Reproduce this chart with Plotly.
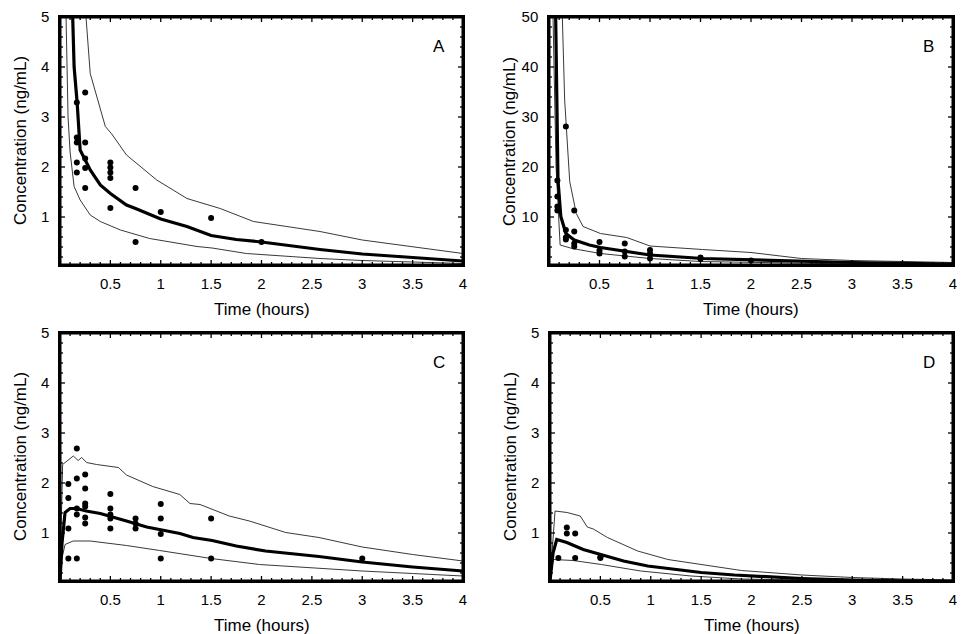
import plotly.graph_objects as go

# ---- observed concentrations (hours, ng/mL) ----
a_obs_t = [0.25, 0.167, 0.167, 0.167, 0.167, 0.167, 0.25, 0.25, 0.25, 0.25,
           0.5, 0.5, 0.5, 0.5, 0.5, 0.75, 0.75, 1.0, 1.5, 2.0]
a_obs_c = [3.49, 3.29, 2.59, 2.49, 2.09, 1.89, 2.49, 2.17, 1.98, 1.58,
           2.09, 1.99, 1.89, 1.78, 1.18, 1.58, 0.5, 1.1, 0.98, 0.5]

b_obs_t = [0.167, 0.083, 0.083, 0.083, 0.083, 0.25, 0.167, 0.167, 0.167, 0.25, 0.25, 0.25,
           0.5, 0.5, 0.5, 0.75, 0.75, 0.75, 1.0, 1.0, 1.0, 1.5, 1.5, 2.0]
b_obs_c = [28.1, 17.3, 14.1, 12.1, 11.3, 11.3, 7.4, 5.9, 5.5, 7.1, 4.7, 4.1,
           5.0, 3.3, 2.7, 4.7, 3.1, 2.1, 3.4, 2.7, 1.7, 1.9, 1.6, 1.3]

c_obs_t = [0.167, 0.083, 0.083, 0.083, 0.083, 0.167, 0.167, 0.167, 0.167,
           0.25, 0.25, 0.25, 0.25, 0.25, 0.25, 0.5, 0.5, 0.5, 0.5, 0.5,
           0.75, 0.75, 0.75, 1.0, 1.0, 1.0, 1.0, 1.5, 1.5, 3.0]
c_obs_c = [2.69, 1.98, 1.70, 1.09, 0.49, 0.49, 2.09, 1.49, 1.37,
           2.17, 1.89, 1.59, 1.53, 1.31, 1.19, 1.78, 1.49, 1.37, 1.29, 1.09,
           1.29, 1.19, 1.09, 1.58, 1.29, 0.98, 0.49, 1.29, 0.49, 0.49]

d_obs_t = [0.083, 0.167, 0.167, 0.25, 0.25, 0.5, 0.5]
d_obs_c = [0.5, 1.11, 0.99, 0.99, 0.5, 0.5, 0.52]

# ---- model curves: median and 90% prediction limits ----
a_med_t = [0.126, 0.14, 0.17, 0.2, 0.3, 0.4, 0.5, 0.66, 0.75, 0.86, 1.0, 1.26, 1.5, 1.75, 2.0, 2.58, 3.0, 3.5, 4.0]
a_med_c = [5.0, 4.0, 3.29, 2.34, 1.94, 1.64, 1.47, 1.24, 1.17, 1.07, 0.96, 0.81, 0.63, 0.55, 0.5, 0.35, 0.26, 0.19, 0.12]
a_hi_t = [0.258, 0.3, 0.45, 0.51, 0.66, 0.96, 1.26, 1.59, 1.92, 2.58, 3.0, 3.5, 4.0]
a_hi_c = [5.0, 3.87, 2.81, 2.67, 2.24, 1.74, 1.37, 1.17, 0.91, 0.71, 0.54, 0.4, 0.27]
a_lo_t = [0.06, 0.08, 0.1, 0.14, 0.2, 0.3, 0.4, 0.6, 0.89, 1.36, 1.51, 1.85, 2.58, 3.0, 3.5, 4.0]
a_lo_c = [5.0, 3.0, 2.3, 1.61, 1.34, 1.04, 0.91, 0.74, 0.57, 0.41, 0.38, 0.27, 0.17, 0.13, 0.1, 0.07]

b_med_t = [0.066, 0.089, 0.117, 0.167, 0.25, 0.4, 0.51, 0.77, 1.0, 1.52, 2.0, 2.5, 3.0, 3.5, 4.0]
b_med_c = [50, 17.4, 10.1, 6.7, 5.4, 4.4, 3.9, 3.1, 2.4, 1.7, 1.4, 1.1, 0.9, 0.75, 0.6]
b_hi_t = [0.132, 0.155, 0.205, 0.27, 0.337, 0.51, 0.77, 1.0, 1.52, 2.0, 2.5, 3.0, 3.5, 4.0]
b_hi_c = [50, 33.4, 17.1, 10.7, 8.1, 6.7, 5.9, 4.2, 3.5, 2.9, 1.7, 1.3, 1.1, 0.9]
b_lo_t = [0.04, 0.07, 0.11, 0.23, 0.51, 1.0, 1.5, 2.5, 3.0, 4.0]
b_lo_c = [50, 20, 4.4, 3.7, 2.7, 1.7, 1.1, 0.7, 0.6, 0.5]

c_med_t = [0.0, 0.02, 0.05, 0.1, 0.165, 0.26, 0.4, 0.51, 0.66, 0.86, 1.0, 1.19, 1.32, 1.51, 1.75, 2.04, 2.57, 3.0, 3.5, 4.0]
c_med_c = [0.04, 0.8, 1.41, 1.49, 1.49, 1.44, 1.39, 1.32, 1.24, 1.12, 1.07, 0.99, 0.91, 0.85, 0.74, 0.64, 0.53, 0.42, 0.32, 0.24]
c_hi_t = [0.0, 0.026, 0.132, 0.18, 0.215, 0.264, 0.363, 0.46, 0.58, 0.66, 0.79, 0.92, 1.19, 1.29, 1.39,
          1.58, 1.68, 1.88, 2.24, 2.57, 3.0, 3.5, 4.0]
c_hi_c = [0.04, 2.37, 2.54, 2.45, 2.51, 2.41, 2.37, 2.34, 2.31, 2.16, 2.05, 1.93, 1.77, 1.59, 1.57,
          1.41, 1.34, 1.24, 1.01, 0.91, 0.72, 0.57, 0.44]
c_lo_t = [0.0, 0.02, 0.05, 0.13, 0.3, 0.66, 0.99, 1.5, 1.98, 2.57, 3.0, 3.5, 4.0]
c_lo_c = [0.04, 0.5, 0.77, 0.84, 0.84, 0.75, 0.65, 0.49, 0.37, 0.29, 0.24, 0.19, 0.14]

d_med_t = [0.0, 0.03, 0.067, 0.167, 0.33, 0.51, 0.73, 0.97, 1.5, 1.83, 2.5, 3.0, 3.5, 4.0]
d_med_c = [0.04, 0.6, 0.87, 0.81, 0.67, 0.57, 0.44, 0.34, 0.21, 0.16, 0.09, 0.06, 0.04, 0.03]
d_hi_t = [0.0, 0.03, 0.05, 0.17, 0.3, 0.37, 0.43, 0.57, 0.87, 1.17, 1.5, 1.9, 2.5, 3.0, 3.5, 4.0]
d_hi_c = [0.04, 1.0, 1.44, 1.41, 1.34, 1.12, 1.08, 0.91, 0.64, 0.47, 0.37, 0.25, 0.16, 0.11, 0.08, 0.06]
d_lo_t = [0.0, 0.033, 0.23, 0.51, 0.9, 1.4, 1.9, 2.5, 3.0, 4.0]
d_lo_c = [0.04, 0.47, 0.45, 0.37, 0.24, 0.14, 0.08, 0.05, 0.04, 0.03]

x_ticks = [0.5, 1, 1.5, 2, 2.5, 3, 3.5, 4]
panels = [
    ("A", a_obs_t, a_obs_c, a_med_t, a_med_c, a_hi_t, a_hi_c, a_lo_t, a_lo_c, [0.04, 5], [1, 2, 3, 4, 5], 0.2),
    ("B", b_obs_t, b_obs_c, b_med_t, b_med_c, b_hi_t, b_hi_c, b_lo_t, b_lo_c, [0.4, 50], [10, 20, 30, 40, 50], 2),
    ("C", c_obs_t, c_obs_c, c_med_t, c_med_c, c_hi_t, c_hi_c, c_lo_t, c_lo_c, [0.04, 5], [1, 2, 3, 4, 5], 0.2),
    ("D", d_obs_t, d_obs_c, d_med_t, d_med_c, d_hi_t, d_hi_c, d_lo_t, d_lo_c, [0.04, 5], [1, 2, 3, 4, 5], 0.2),
]

# the page body adds an 8px margin, so the figure is 8px smaller and everything shifts
OFF = 8
W, H = 965 - OFF, 634 - OFF
X_RANGE = [0, 4]
# plot areas in window pixels: (left, right, top, bottom)
boxes = [(60, 463, 17, 265), (549, 953, 17, 265), (60, 463, 333, 581), (550, 953, 333, 581)]

FONT = "Liberation Sans, Arial, sans-serif"
MAJOR, MINOR = 5, 3   # tick lengths in px

fig = go.Figure()
layout = dict(template="simple_white", width=W, height=H, autosize=False,
              margin=dict(l=0, r=0, t=0, b=0, pad=0),
              plot_bgcolor="white", paper_bgcolor="white", showlegend=False,
              font=dict(family=FONT, color="black"))
annotations = []


def steps(lo, hi, step):
    k0 = int(lo / step - 1e-9) + 1
    k1 = int(hi / step - 1e-9)
    return [k * step for k in range(k0, k1 + 1)]


def is_major(v, major_vals):
    return any(abs(v - m) < 1e-6 for m in major_vals)


for i, (lab, ot, oc, mt, mc, ht, hc, lt, lc, yr, yt, ymin) in enumerate(panels):
    n = i + 1
    xa = "x" if n == 1 else f"x{n}"
    ya = "y" if n == 1 else f"y{n}"
    l, r, t, b = [v - OFF for v in boxes[i]]
    pw, ph = r - l, b - t
    x0, x1 = X_RANGE
    y0, y1 = yr

    for tt, cc in ((ht, hc), (lt, lc)):
        fig.add_trace(go.Scatter(x=tt, y=cc, mode="lines", xaxis=xa, yaxis=ya,
                                 line=dict(color="#222", width=0.9)))
    fig.add_trace(go.Scatter(x=mt, y=mc, mode="lines", xaxis=xa, yaxis=ya,
                             line=dict(color="black", width=3.2)))
    fig.add_trace(go.Scatter(x=ot, y=oc, mode="markers", xaxis=xa, yaxis=ya,
                             marker=dict(color="black", size=6)))

    # inside tick marks on all four sides, laid out from the axis ranges
    tx, ty = [], []
    for v in steps(x0, x1, 0.1):
        d = (MAJOR if is_major(v, x_ticks) else MINOR) / ph * (y1 - y0)
        tx += [v, v, None, v, v, None]
        ty += [y0, y0 + d, None, y1, y1 - d, None]
    for v in steps(y0, y1, ymin):
        d = (MAJOR if is_major(v, yt) else MINOR) / pw * (x1 - x0)
        tx += [x0, x0 + d, None, x1, x1 - d, None]
        ty += [v, v, None, v, v, None]
    fig.add_trace(go.Scatter(x=tx, y=ty, mode="lines", xaxis=xa, yaxis=ya,
                             line=dict(color="black", width=1.3)))
    # plot frame along the axis range limits
    fig.add_trace(go.Scatter(x=[x0, x1, x1, x0, x0], y=[y0, y0, y1, y1, y0], mode="lines",
                             xaxis=xa, yaxis=ya, line=dict(color="black", width=3)))

    axis_common = dict(showline=True, linecolor="black", linewidth=1.5, mirror=True,
                       ticks="", showgrid=False, zeroline=False, automargin=False,
                       tickfont=dict(family=FONT, size=15, color="black"))
    layout["xaxis" if n == 1 else f"xaxis{n}"] = dict(
        axis_common, domain=[l / W, r / W], range=X_RANGE, anchor=ya,
        tickmode="array", tickvals=x_ticks, ticktext=[f"{v:g}" for v in x_ticks],
        ticklabelstandoff=4)
    layout["yaxis" if n == 1 else f"yaxis{n}"] = dict(
        axis_common, domain=[1 - b / H, 1 - t / H], range=yr, anchor=xa,
        tickmode="array", tickvals=yt, ticklabelstandoff=6)

    annotations.append(dict(text=lab, xref=f"{xa} domain", yref=f"{ya} domain",
                            x=0.94, y=0.88, xanchor="center", yanchor="middle",
                            showarrow=False, font=dict(family=FONT, size=17)))
    annotations.append(dict(text="Time (hours)", xref="paper", yref="paper",
                            x=(l + r) / 2 / W, y=1 - (b + 44) / H,
                            xanchor="center", yanchor="middle",
                            showarrow=False, font=dict(family=FONT, size=17)))
    annotations.append(dict(text="Concentration (ng/mL)", xref="paper", yref="paper",
                            x=(l - 40) / W, y=1 - (t + b) / 2 / H, textangle=-90,
                            xanchor="center", yanchor="middle",
                            showarrow=False, font=dict(family=FONT, size=17)))

layout["annotations"] = annotations
fig.update_layout(**layout)
fig.write_html("out.html")
